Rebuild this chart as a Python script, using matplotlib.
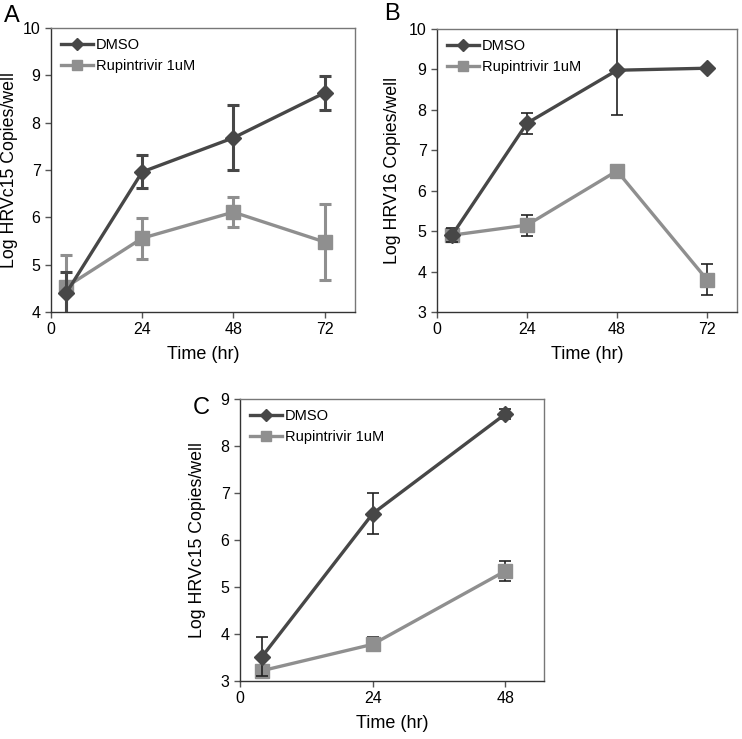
import numpy as np
import matplotlib
matplotlib.use('Agg')
from matplotlib import pyplot as plt

plt.rcParams['font.family'] = ['Liberation Sans', 'DejaVu Sans']

# panel A
time_a = [4, 24, 48, 72]
dmso_a = [4.40, 6.96, 7.68, 8.63]
dmso_a_err = [0.44, 0.35, 0.69, 0.36]
rup_a = [4.53, 5.56, 6.11, 5.48]
rup_a_err = [0.68, 0.43, 0.31, 0.80]

# panel B
time_b = [4, 24, 48, 72]
dmso_b = [4.90, 7.67, 8.98, 9.03]
dmso_b_err = [0.18, 0.26, 1.10, 0.0]
rup_b = [4.90, 5.15, 6.49, 3.80]
rup_b_err = [0.10, 0.26, 0.15, 0.39]

# panel C
time_c = [4, 24, 48]
dmso_c = [3.52, 6.56, 8.68]
dmso_c_err = [0.41, 0.43, 0.10]
rup_c = [3.22, 3.78, 5.34]
rup_c_err = [0.10, 0.15, 0.22]

dark = '#474747'
light = '#8f8f8f'
W, H = 742, 739


def box(l, t, r, b):
    return [l / W, 1 - b / H, (r - l) / W, (b - t) / H]


def panel(ax, x, d, de, r, re, ylab, ylim, xlim, xticks, errcol_d, errcol_r, elw, ylx):
    ax.errorbar(x, d, yerr=de, fmt='none', ecolor=errcol_d, elinewidth=elw,
                capsize=4, capthick=elw, zorder=3)
    ax.errorbar(x, r, yerr=re, fmt='none', ecolor=errcol_r, elinewidth=elw,
                capsize=4, capthick=elw, zorder=2)
    ax.plot(x, d, color=dark, marker='D', markersize=8, lw=2.4, label='DMSO', zorder=3)
    ax.plot(x, r, color=light, marker='s', markersize=10, lw=2.4, label='Rupintrivir 1uM', zorder=2)
    ax.set_xlim(*xlim)
    ax.set_ylim(*ylim)
    ax.set_xticks(xticks)
    ax.set_yticks(np.arange(ylim[0], ylim[1] + 1))
    ax.tick_params(labelsize=11.5, length=4, width=1, color='#555555', direction='out',
                   top=False, right=False)
    for s in ax.spines.values():
        s.set_color('#777777')
        s.set_linewidth(1.0)
    ax.spines['left'].set_color('#333333')
    ax.spines['bottom'].set_color('#333333')
    ax.set_ylabel(ylab, fontsize=12.8, va='center')
    ax.yaxis.set_label_coords(ylx, 0.5)
    ax.set_xlabel('Time (hr)', fontsize=13, labelpad=6)
    ax.legend(loc='upper left', frameon=False, fontsize=10.5, handlelength=2.2,
              handletextpad=0.2, borderaxespad=0.3, labelspacing=0.5, markerscale=0.75)


fig = plt.figure(figsize=(7.42, 7.39), dpi=100)

ax1 = fig.add_axes(box(51, 28, 355, 312))
panel(ax1, time_a, dmso_a, dmso_a_err, rup_a, rup_a_err, 'Log HRVc15 Copies/well',
      (4, 10), (0, 80), [0, 24, 48, 72], dark, light, 2.2, -0.138)

ax2 = fig.add_axes(box(437, 29, 737, 312))
panel(ax2, time_b, dmso_b, dmso_b_err, rup_b, rup_b_err, 'Log HRV16 Copies/well',
      (3, 10), (0, 80), [0, 24, 48, 72], '#222222', '#222222', 1.2, -0.147)

ax3 = fig.add_axes(box(240, 399, 544, 681))
panel(ax3, time_c, dmso_c, dmso_c_err, rup_c, rup_c_err, 'Log HRVc15 Copies/well',
      (3, 9), (0, 55), [0, 24, 48], '#222222', '#222222', 1.2, -0.141)

fig.text(4 / W, 1 - 16 / H, 'A', fontsize=17, va='center', ha='left')
fig.text(384 / W, 1 - 14 / H, 'B', fontsize=17, va='center', ha='left')
fig.text(193 / W, 1 - 408 / H, 'C', fontsize=17, va='center', ha='left')

fig.savefig('out.png', dpi=100)
